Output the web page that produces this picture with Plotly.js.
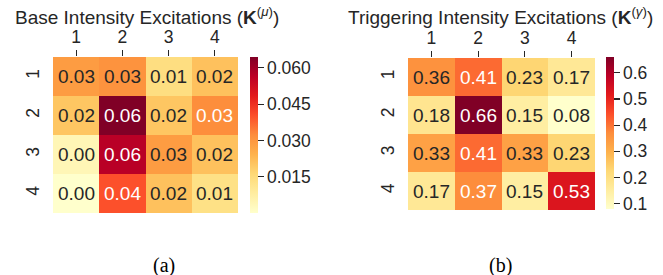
<!DOCTYPE html>
<html>
<head>
<meta charset="utf-8">
<script src="https://cdn.plot.ly/plotly-3.0.1.min.js"></script>
<style>html,body{margin:0;padding:0;background:#fff;}#chart{width:663px;height:275px;}</style>
</head>
<body>
<div id="chart"></div>
<script>
// Category labels
const xLabels = ['1', '2', '3', '4'];
const yLabels = ['1', '2', '3', '4'];

// Base intensity excitations K^(mu) (estimated from colours; labels are 2-decimal rounded)
const baseRow1 = [0.029, 0.031, 0.014, 0.021];
const baseRow2 = [0.020, 0.0645, 0.020, 0.032];
const baseRow3 = [0.004, 0.057, 0.029, 0.021];
const baseRow4 = [0.000, 0.040, 0.021, 0.013];

// Triggering intensity excitations K^(gamma)
const trigRow1 = [0.36, 0.41, 0.23, 0.17];
const trigRow2 = [0.18, 0.66, 0.15, 0.08];
const trigRow3 = [0.33, 0.41, 0.33, 0.23];
const trigRow4 = [0.17, 0.37, 0.15, 0.53];

// Colour bar ticks
const baseTicks = [0.015, 0.030, 0.045, 0.060];
const trigTicks = [0.1, 0.2, 0.3, 0.4, 0.5, 0.6];

const baseZ = [baseRow1, baseRow2, baseRow3, baseRow4];
const trigZ = [trigRow1, trigRow2, trigRow3, trigRow4];

const ylorrd = ['#ffffcc','#ffeda0','#fed976','#feb24c','#fd8d3c','#fc4e2a','#e31a1c','#bd0026','#800026'];
const colorscale = ylorrd.map((c, i) => [i / (ylorrd.length - 1), c]);

function hexToRgb(h) {
  return [parseInt(h.slice(1,3),16), parseInt(h.slice(3,5),16), parseInt(h.slice(5,7),16)];
}
function colorAt(t) {
  t = Math.max(0, Math.min(1, t));
  const n = ylorrd.length - 1;
  const i = Math.min(n - 1, Math.floor(t * n));
  const f = t * n - i;
  const a = hexToRgb(ylorrd[i]), b = hexToRgb(ylorrd[i+1]);
  return a.map((v, k) => v + (b[k] - v) * f);
}
function luminance(rgb) {
  const lin = rgb.map(v => { v /= 255; return v <= 0.03928 ? v / 12.92 : Math.pow((v + 0.055) / 1.055, 2.4); });
  return 0.2126 * lin[0] + 0.7152 * lin[1] + 0.0722 * lin[2];
}

const dark = '#262626';
const font = "'Liberation Sans', Arial, sans-serif";
const serif = "'Liberation Serif', 'Times New Roman', serif";

function cellAnnotations(z, xr, yr) {
  const flat = z.flat();
  const mn = Math.min(...flat), mx = Math.max(...flat);
  const out = [];
  z.forEach((row, r) => row.forEach((v, c) => {
    const lum = luminance(colorAt((v - mn) / (mx - mn)));
    out.push({
      x: c, y: r, xref: xr, yref: yr,
      text: v.toFixed(2), showarrow: false,
      font: {family: font, size: 19, color: lum < 0.408 ? '#ffffff' : dark}
    });
  }));
  return out;
}

const cbCommon = {
  thickness: 8, thicknessmode: 'pixels', lenmode: 'pixels',
  xanchor: 'left', yanchor: 'middle', xpad: 0, ypad: 0,
  outlinewidth: 0, ticks: 'outside', ticklen: 6, tickwidth: 1.2, tickcolor: dark,
  tickfont: {family: font, size: 17.5, color: dark}
};

const traces = [
  {
    type: 'heatmap', x: xLabels, y: yLabels, z: baseZ, xaxis: 'x', yaxis: 'y',
    colorscale: colorscale, hoverinfo: 'skip',
    colorbar: Object.assign({}, cbCommon, {
      len: 156, x: 250/663, y: 1 - 135/275,
      tickvals: baseTicks, ticktext: baseTicks.map(v => v.toFixed(3))
    })
  },
  {
    type: 'heatmap', x: xLabels, y: yLabels, z: trigZ, xaxis: 'x2', yaxis: 'y2',
    colorscale: colorscale, hoverinfo: 'skip',
    colorbar: Object.assign({}, cbCommon, {
      len: 152, x: 606/663, y: 1 - 133/275,
      tickvals: trigTicks, ticktext: trigTicks.map(v => v.toFixed(1))
    })
  }
];

const xCommon = {
  type: 'category', side: 'top', ticks: 'outside', ticklen: 6, tickwidth: 1.2, tickcolor: dark,
  range: [-0.5, 3.5], showgrid: false, zeroline: false, showline: false,
  tickfont: {family: font, size: 17.5, color: dark}
};
const yCommon = {
  type: 'category', range: [3.5, -0.5], ticks: 'outside', ticklen: 6, tickcolor: 'rgba(0,0,0,0)',
  tickangle: -90, showgrid: false, zeroline: false, showline: false,
  tickfont: {family: font, size: 17.5, color: dark}
};

const layout = {
  width: 663, height: 275,
  margin: {l: 0, r: 0, t: 0, b: 0},
  paper_bgcolor: '#ffffff', plot_bgcolor: '#ffffff',
  showlegend: false,
  xaxis: Object.assign({}, xCommon, {domain: [53/663, 238/663], anchor: 'y'}),
  yaxis: Object.assign({}, yCommon, {domain: [1 - 213/275, 1 - 57/275], anchor: 'x'}),
  xaxis2: Object.assign({}, xCommon, {domain: [408/663, 595/663], anchor: 'y2'}),
  yaxis2: Object.assign({}, yCommon, {domain: [1 - 210/275, 1 - 58/275], anchor: 'x2'}),
  annotations: [
    {xref: 'paper', yref: 'paper', x: 147/663, y: 1 - 16/275, xanchor: 'center', yanchor: 'middle',
     showarrow: false, text: 'Base Intensity Excitations (<b>K</b><sup>(<i>μ</i>)</sup>)',
     font: {family: font, size: 19, color: dark}},
    {xref: 'paper', yref: 'paper', x: 500/663, y: 1 - 16/275, xanchor: 'center', yanchor: 'middle',
     showarrow: false, text: 'Triggering Intensity Excitations (<b>K</b><sup>(<i>γ</i>)</sup>)',
     font: {family: font, size: 19, color: dark}},
    {xref: 'paper', yref: 'paper', x: 164/663, y: 1 - 265/275, xanchor: 'center', yanchor: 'middle',
     showarrow: false, text: '(a)', font: {family: serif, size: 20, color: '#000'}},
    {xref: 'paper', yref: 'paper', x: 500/663, y: 1 - 265/275, xanchor: 'center', yanchor: 'middle',
     showarrow: false, text: '(b)', font: {family: serif, size: 20, color: '#000'}}
  ].concat(cellAnnotations(baseZ, 'x', 'y'), cellAnnotations(trigZ, 'x2', 'y2'))
};

Plotly.newPlot('chart', traces, layout, {staticPlot: true, displayModeBar: false});
</script>
</body>
</html>
